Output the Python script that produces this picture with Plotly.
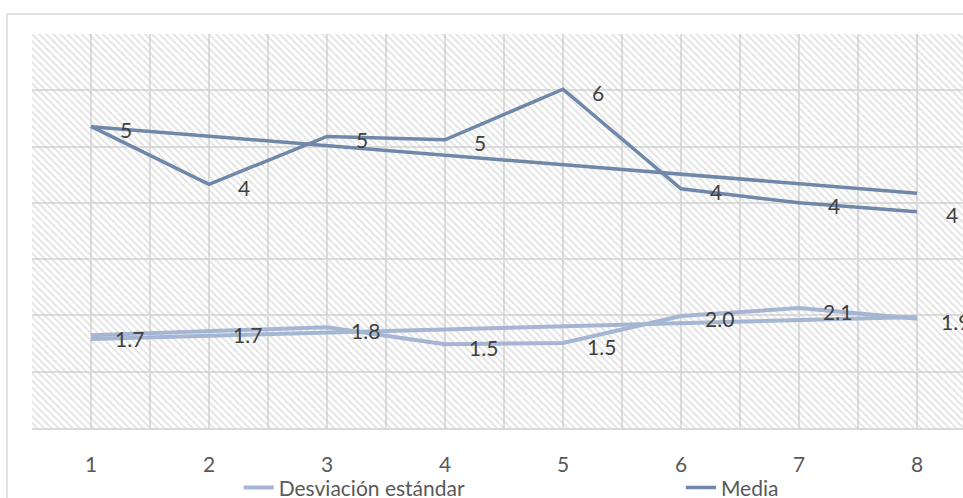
import plotly.graph_objects as go
import numpy as np

categories = [1, 2, 3, 4, 5, 6, 7, 8]
media = [5.36, 4.33, 5.18, 5.12, 6.02, 4.25, 4.00, 3.84]
desviacion = [1.65, 1.72, 1.79, 1.49, 1.51, 1.99, 2.13, 1.94]
media_labels = ["5", "4", "5", "5", "6", "4", "4", "4"]
desv_labels = ["1.7", "1.7", "1.8", "1.5", "1.5", "2.0", "2.1", "1.9"]

C_MEDIA = "#6f88aa"
C_DESV = "#a5b6d2"
GRID = "#dedede"
FONT = "Lato"

Y_MAX = 7
X_LO, X_HI = 0.5, 8.39

x = np.array(categories, dtype=float)

def trend(vals):
    m, b = np.polyfit(x, np.array(vals), 1)
    return list(m * x + b)

fig = go.Figure()

# hatched plot-area background (covers the category span)
fig.add_trace(go.Bar(
    x=[np.mean(categories)], y=[Y_MAX], width=[len(categories)], base=[0],
    marker=dict(color="rgba(0,0,0,0)", line=dict(width=0),
                pattern=dict(shape="\\", size=5, solidity=0.35,
                             fgcolor="#c6c6c6", bgcolor="rgba(0,0,0,0)",
                             fillmode="overlay")),
    showlegend=False, hoverinfo="skip"))

# trendlines
fig.add_trace(go.Scatter(x=categories, y=trend(desviacion), mode="lines",
                         line=dict(color=C_DESV, width=4), showlegend=False,
                         hoverinfo="skip"))
fig.add_trace(go.Scatter(x=categories, y=trend(media), mode="lines",
                         line=dict(color=C_MEDIA, width=3.5), showlegend=False,
                         hoverinfo="skip"))

# series
fig.add_trace(go.Scatter(x=categories, y=desviacion, mode="lines",
                         name="Desviación estándar", legend="legend",
                         line=dict(color=C_DESV, width=4)))
fig.add_trace(go.Scatter(x=categories, y=media, mode="lines", name="Media",
                         legend="legend2",
                         line=dict(color=C_MEDIA, width=3.5)))

annotations = []
for cx, v, t in zip(categories, media, media_labels):
    annotations.append(dict(x=cx, y=v, text=t, showarrow=False, xanchor="left",
                            xshift=27, yshift=-3,
                            font=dict(family=FONT, size=21, color="#404040")))
for cx, v, t in zip(categories, desviacion, desv_labels):
    annotations.append(dict(x=cx, y=v, text=t, showarrow=False, xanchor="left",
                            xshift=22, yshift=-3,
                            font=dict(family=FONT, size=21, color="#404040")))

legend_common = dict(orientation="h", xanchor="left", y=-0.152,
                     yanchor="middle",
                     font=dict(family=FONT, size=21, color="#595959"),
                     bgcolor="rgba(0,0,0,0)")

fig.update_layout(
    width=963, height=498,
    margin=dict(l=32, r=0, t=34, b=70, autoexpand=False),
    paper_bgcolor="white", plot_bgcolor="white",
    font=dict(family=FONT, size=21, color="#595959"),
    annotations=annotations,
    showlegend=True,
    legend=dict(x=0.222, **legend_common),
    legend2=dict(x=0.697, **legend_common),
    shapes=[dict(type="rect", xref="paper", yref="paper",
                 x0=-0.0269, x1=1.2, y0=-0.5, y1=1.0508,
                 line=dict(color="#d9d9d9", width=1.5), layer="below")],
    bargap=0,
)

fig.update_xaxes(range=[X_LO, X_HI], tickvals=categories,
                 ticktext=[str(c) for c in categories],
                 showgrid=True, gridcolor=GRID, gridwidth=1.5,
                 minor=dict(tick0=0.5, dtick=1, showgrid=True, gridcolor=GRID,
                            gridwidth=1.5),
                 showline=True, linecolor="#d9d9d9", linewidth=1.5,
                 ticks="", ticklabelstandoff=17, zeroline=False,
                 fixedrange=True,
                 tickfont=dict(family=FONT, size=21, color="#595959"))
fig.update_yaxes(range=[0, Y_MAX], dtick=1, showticklabels=False,
                 showgrid=True, gridcolor=GRID, gridwidth=1.5,
                 zeroline=False, ticks="", fixedrange=True)

fig.write_html("out.html", config={"displayModeBar": False},
               post_script="document.body.style.margin='0px';"
                           "document.body.style.overflow='hidden';")
